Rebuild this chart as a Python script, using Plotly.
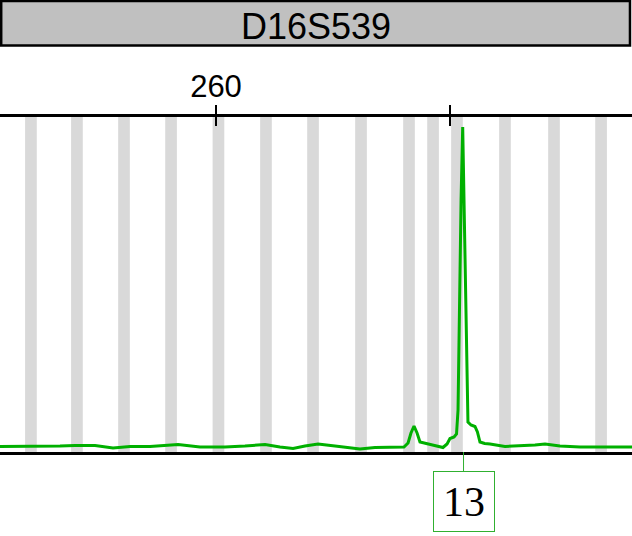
import plotly.graph_objects as go

# ---- data ----
marker_name = "D16S539"
tick_values = [260, 280]
tick_labels = ["260", ""]

# allelic bin centres (bp)
bin_centers = [244.15, 248.09, 252.12, 256.15, 260.21, 264.28, 268.31,
               272.42, 276.53, 278.59, 280.64, 284.75, 288.95, 292.98]
bin_width = 1.0

# electropherogram trace (size in bp, signal in RFU)
trace_bp = [241.50, 243.22, 244.93, 246.64, 247.92, 249.64, 251.18, 252.64,
            254.35, 256.75, 258.63, 260.77, 262.48, 264.20, 265.48, 266.60,
            267.62, 268.74, 270.19, 271.05, 272.33, 273.62, 275.33, 276.10,
            276.45, 276.70, 276.96, 277.22, 277.47, 278.33, 279.44, 279.79,
            280.04, 280.39, 280.60, 280.73, 280.86, 280.99, 281.13, 281.24,
            281.37, 281.50, 281.58, 281.84, 282.18, 282.39, 282.61, 283.01,
            283.47, 284.75, 286.04, 287.32, 288.18, 289.46, 291.18, 292.89,
            295.63]
trace_rfu = [55, 55, 60, 60, 65, 65, 40, 55,
             55, 75, 50, 50, 60, 75, 50, 35,
             60, 80, 60, 45, 30, 45, 50, 50,
             90, 190, 260, 190, 100, 75, 45, 80,
             135, 150, 180, 420, 1520, 2520, 3250, 2520,
             1520, 520, 300, 270, 255, 200, 100, 85,
             80, 55, 60, 70, 80, 60, 50, 50,
             50]

# allele call labels
call_sizes = [281.2]
call_labels = ["13"]

x_range = [241.50, 295.63]
y_range = [0, 3350]

GREEN = "#00b000"
LABEL_GREEN = "#30b030"

fig = go.Figure()

fig.add_trace(go.Scatter(
    x=trace_bp, y=trace_rfu, mode="lines",
    line=dict(color=GREEN, width=3),
    showlegend=False, hoverinfo="skip",
))
# dummy trace so the inner-tick overlay axis is rendered
fig.add_trace(go.Scatter(
    x=[x_range[0]], y=[None], xaxis="x2", mode="lines",
    showlegend=False, hoverinfo="skip",
))

shapes = []
for c in bin_centers:
    shapes.append(dict(
        type="rect", xref="x", yref="paper",
        x0=c - bin_width / 2, x1=c + bin_width / 2, y0=0, y1=1,
        fillcolor="#d9d9d9", line=dict(width=0), layer="below",
    ))
# marker header box
shapes.append(dict(
    type="rect", xref="paper", yref="paper",
    x0=0.0019, x1=0.9968, y0=1.2134, y1=1.3463,
    fillcolor="#c0c0c0", line=dict(color="black", width=2.5), layer="above",
))

annotations = []
for s, lab in zip(call_sizes, call_labels):
    annotations.append(dict(
        x=s, y=0, xref="x", yref="paper", text=lab,
        showarrow=True, arrowhead=0, arrowwidth=1, arrowcolor=LABEL_GREEN,
        ax=0, ay=49.5, standoff=0,
        font=dict(family="Liberation Serif", size=42, color="black"),
        bordercolor=LABEL_GREEN, borderwidth=1, borderpad=0,
        bgcolor="white", width=60, height=59,
    ))

fig.update_layout(
    width=632, height=536, autosize=False,
    margin=dict(l=0, r=0, t=117, b=84, pad=0),
    paper_bgcolor="white", plot_bgcolor="white",
    title=dict(text=marker_name, x=0.5, xanchor="center",
               y=1 - 26.5 / 536, yanchor="middle",
               font=dict(family="Liberation Sans", size=36, color="black")),
    xaxis=dict(
        range=x_range, side="top", showgrid=False, zeroline=False,
        tickmode="array", tickvals=tick_values, ticktext=tick_labels,
        ticks="outside", ticklen=9, tickwidth=2, tickcolor="black",
        tickfont=dict(family="Liberation Sans", size=31, color="black"),
        ticklabelstandoff=-4,
        showline=True, linecolor="black", linewidth=2.5, mirror=True,
    ),
    xaxis2=dict(
        range=x_range, overlaying="x", matches="x", side="top",
        showgrid=False, zeroline=False, showline=False,
        tickmode="array", tickvals=tick_values, ticktext=["", ""],
        ticks="inside", ticklen=9, tickwidth=2, tickcolor="black",
        showticklabels=False,
    ),
    yaxis=dict(range=y_range, visible=False, showgrid=False, zeroline=False),
    shapes=shapes,
    annotations=annotations,
    showlegend=False,
)

fig.write_html(
    "out.html",
    config={"displayModeBar": False},
    post_script="document.body.style.margin='0';document.body.style.overflow='hidden';",
)
